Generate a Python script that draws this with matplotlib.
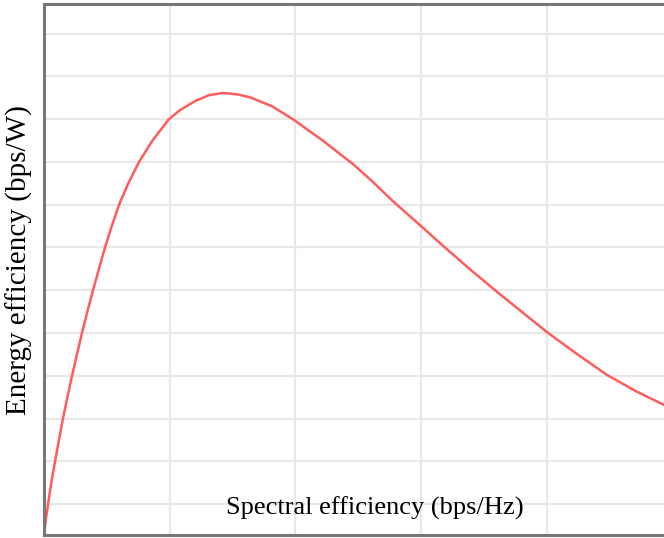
import matplotlib
matplotlib.use("Agg")
import matplotlib.pyplot as plt

# values (arbitrary units)
spectral_eff = [0.0, 0.015, 0.032, 0.058, 0.088, 0.119, 0.151, 0.186, 0.223,
                0.262, 0.302, 0.345, 0.390, 0.437, 0.485, 0.539, 0.597, 0.671,
                0.756, 0.863, 0.994, 1.082, 1.201, 1.313, 1.424, 1.535, 1.639,
                1.814, 1.989, 2.212, 2.458, 2.617, 2.776, 3.007, 3.166, 3.389,
                3.588, 3.795, 4.002, 4.240, 4.479, 4.710, 4.932]
energy_eff = [0.0, 0.36, 0.72, 1.22, 1.72, 2.22, 2.72, 3.22, 3.72,
              4.22, 4.72, 5.22, 5.72, 6.22, 6.72, 7.22, 7.72, 8.22,
              8.72, 9.22, 9.72, 9.93, 10.14, 10.28, 10.33, 10.30, 10.23,
              10.02, 9.70, 9.23, 8.67, 8.25, 7.80, 7.20, 6.78, 6.21,
              5.72, 5.23, 4.74, 4.23, 3.74, 3.36, 3.04]
x_grid = [1, 2, 3, 4]
y_grid = [0.72 + k for k in range(12)]

fig = plt.figure(figsize=(6.64, 5.38), dpi=100)
ax = fig.add_axes([44/664, 3/538, 620/664, 531/538])

ax.plot(spectral_eff, energy_eff, color="#ff5c5c", lw=1.8,
        solid_capstyle="round", solid_joinstyle="round")

ax.set_xlim(0, 4.932)
ax.set_ylim(0, 12.41)
ax.set_xticks(x_grid)
ax.set_yticks(y_grid)
ax.tick_params(length=0, labelbottom=False, labelleft=False)
ax.grid(True, color="#e8e8e8", lw=1.6)
ax.set_axisbelow(True)

for side in ["left", "bottom", "top"]:
    ax.spines[side].set_color("#777777")
    ax.spines[side].set_linewidth(2.2)
ax.spines["right"].set_visible(False)

fig.text(375/664, 1 - 508/538, "Spectral efficiency (bps/Hz)", family="Liberation Serif",
         fontsize=19, ha="center", va="center")
fig.text(19/664, 1 - 260/538, "Energy efficiency (bps/W)", family="Liberation Serif",
         fontsize=21, ha="center", va="center", rotation=90)

fig.savefig("out.png", dpi=100)
